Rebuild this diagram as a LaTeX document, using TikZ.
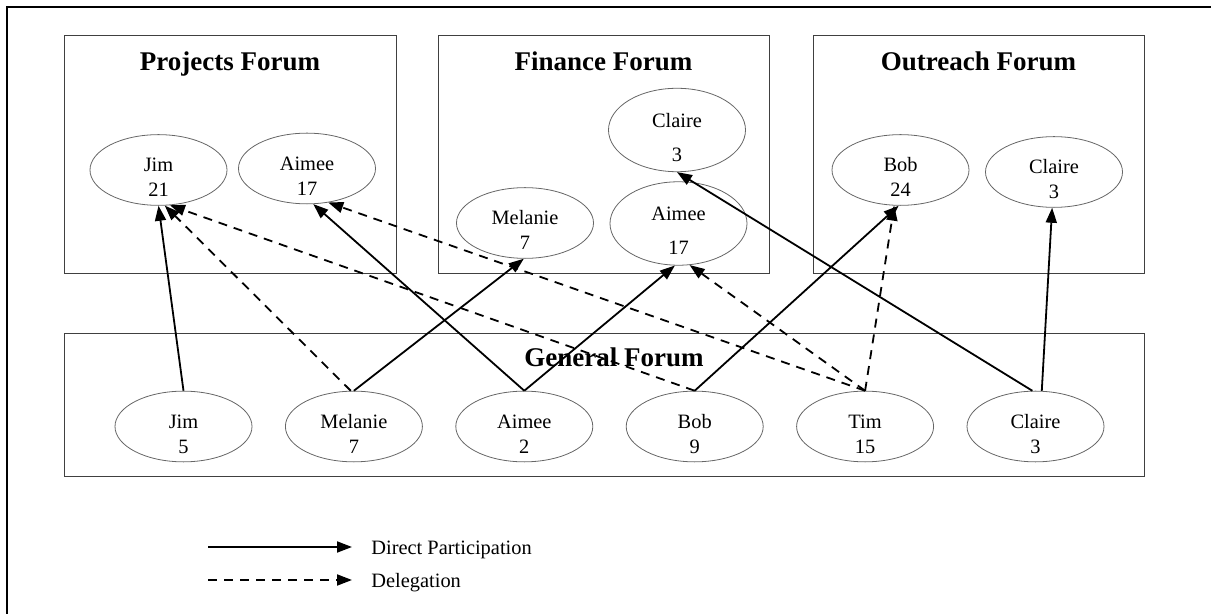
\documentclass[tikz,border=0pt]{standalone}
\usepackage{fontspec}
\setmainfont{Liberation Serif}
\usetikzlibrary{arrows.meta,shapes.geometric}
% two-line label of a member, lowered a little inside its ellipse
\newcommand{\pn}[3][0pt]{\raisebox{-4.75pt}[\height][\depth]{\begin{tabular}{@{}c@{}}#2\\[#1]#3\end{tabular}}}

\begin{document}
\begin{tikzpicture}[x=0.5pt,y=-0.5pt,
  forum/.style={draw=black!75,line width=0.5pt},
  person/.style={ellipse,draw=black!60,line width=0.4pt,minimum width=68.5pt,minimum height=34pt,
    inner sep=0pt,font=\fontsize{10.2}{12.5}\selectfont},
  title/.style={anchor=base,font=\fontsize{13.5}{16}\selectfont\bfseries},
  legtext/.style={anchor=base west,inner sep=0pt,font=\fontsize{10.2}{12.5}\selectfont},
  direct/.style={line width=0.9pt,-{Triangle[length=7.5pt,width=5.5pt]}},
  deleg/.style={direct,dash pattern=on 4.5pt off 3.5pt}]
  \useasboundingbox (0,0) rectangle (1211,614);
  \draw[line width=1.4pt] (7,614) -- (7,7) -- (1211,7);
  % forums
  \draw[forum] (64,36) rectangle (396,274);
  \draw[forum] (438,36) rectangle (769,274);
  \draw[forum] (813,36) rectangle (1144,274);
  \draw[forum] (64,334) rectangle (1144,477);
  \node[title] (tProj) at (230,71) {Projects Forum};
  \node[title] (tFin) at (603.5,71) {Finance Forum};
  \node[title] (tOut) at (978.5,71) {Outreach Forum};
  % members of the topic forums
  \node[person] (pJim) at (158.5,170) {\pn{Jim}{21}};
  \node[person] (pAim) at (307,168.5) {\pn{Aimee}{17}};
  \node[person] (fCla) at (677,130) {\pn[4.5pt]{Claire}{3}};
  \node[person] (fMel) at (525,223) {\pn{Melanie}{7}};
  \node[person] (fAim) at (678.5,223.5) {\pn[4.5pt]{Aimee}{17}};
  \node[person] (oBob) at (900.5,170) {\pn{Bob}{24}};
  \node[person] (oCla) at (1054,172) {\pn{Claire}{3}};
  % general forum
  \foreach \n/\name/\val [count=\i] in {gJim/Jim/5,gMel/Melanie/7,gAim/Aimee/2,gBob/Bob/9,gTim/Tim/15,gCla/Claire/3}
    \node[person] (\n) at ({183.5+170.4*(\i-1)},426.5) {\pn{\name}{\val}};
  \node[title] (tGen) at (614,367) {General Forum};
  % direct participation
  \draw[direct] (gJim.north) -- (pJim.south);
  \draw[direct] (gMel.north) -- (fMel.-92);
  \draw[direct] (gAim.north) -- (pAim.-80);
  \draw[direct] (gAim.north) -- (fAim.-95);
  \draw[direct] (gBob.north) -- (oBob.-93);
  \draw[direct] (gCla.95) -- (fCla.south);
  \draw[direct] (gCla.80) -- (oCla.-93);
  % delegation
  \draw[deleg] (gMel.95) -- (pJim.-80);
  \draw[deleg] (gBob.north) -- (pJim.-72);
  \draw[deleg] (gTim.north) -- (pAim.-58);
  \draw[deleg] (gTim.north) -- (fAim.-75);
  \draw[deleg] (gTim.north) -- (oBob.-100);
  % legend
  \coordinate (l1a) at (208,547); \coordinate (l1b) at (352,547);
  \coordinate (l2a) at (208,580); \coordinate (l2b) at (352,580);
  \draw[direct] (l1a) -- (l1b);
  \draw[deleg] (l2a) -- (l2b);
  \node[legtext] (l1t) at (371,555) {Direct Participation};
  \node[legtext] (l2t) at (371,588) {Delegation};
\end{tikzpicture}
\end{document}
